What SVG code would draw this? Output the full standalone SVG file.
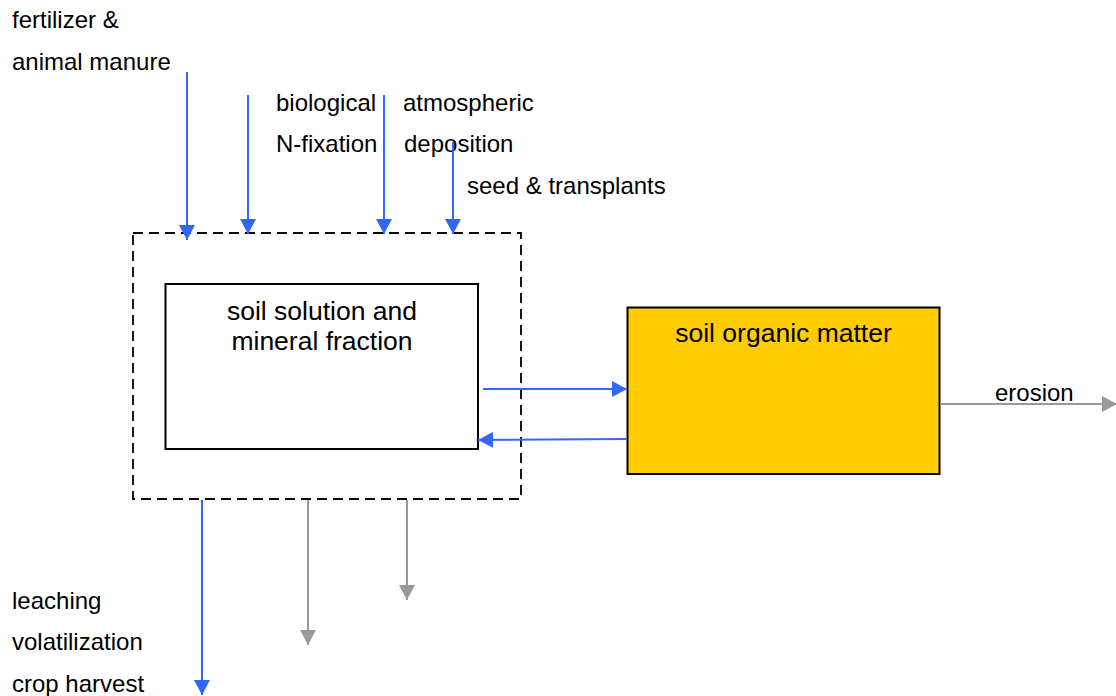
<svg xmlns="http://www.w3.org/2000/svg" width="1116" height="696" viewBox="0 0 1116 696">
<style>
text{font-family:"Liberation Sans",Arial,sans-serif;fill:#000}
.lbl{font-size:24px}
.box{font-size:26.5px}
.b{stroke:#3366ff;stroke-width:2;fill:none}
.g{stroke:#999999;stroke-width:2;fill:none}
</style>
<defs>
<marker id="ab" markerUnits="userSpaceOnUse" markerWidth="16" markerHeight="16" refX="15" refY="8" orient="auto"><path d="M0,0 L15,8 L0,16 z" fill="#3366ff"/></marker>
<marker id="ag" markerUnits="userSpaceOnUse" markerWidth="16" markerHeight="16" refX="15" refY="8" orient="auto"><path d="M0,0 L15,8 L0,16 z" fill="#999999"/></marker>
</defs>
<g id="pool">
<rect x="133" y="233" width="388" height="266" fill="none" stroke="#000" stroke-width="1.8" stroke-dasharray="10,6"/>
</g>
<g id="soil-solution">
<rect x="165.5" y="284" width="312.5" height="165" fill="#fff" stroke="#000" stroke-width="2"/>
<text class="box" x="322" y="320" text-anchor="middle">soil solution and</text>
<text class="box" x="322" y="350" text-anchor="middle">mineral fraction</text>
</g>
<g id="som">
<rect x="627.5" y="307.5" width="312" height="166.5" fill="#ffcc00" stroke="#000" stroke-width="2"/>
<text class="box" x="783.5" y="342" text-anchor="middle">soil organic matter</text>
</g>
<g id="labels">
<text class="lbl" x="12" y="28">fertilizer &amp;</text>
<text class="lbl" x="12" y="70">animal manure</text>
<text class="lbl" x="276" y="111">biological</text>
<text class="lbl" x="276" y="152">N-fixation</text>
<text class="lbl" x="403" y="111">atmospheric</text>
<text class="lbl" x="404" y="152">deposition</text>
<text class="lbl" x="467" y="194">seed &amp; transplants</text>
<text class="lbl" x="995" y="401">erosion</text>
<text class="lbl" x="12" y="609">leaching</text>
<text class="lbl" x="12" y="650">volatilization</text>
<text class="lbl" x="12" y="692">crop harvest</text>
</g>
<g id="connectors">
<line class="b" x1="187" y1="72" x2="187" y2="240" marker-end="url(#ab)"/>
<line class="b" x1="248" y1="95" x2="248" y2="234" marker-end="url(#ab)"/>
<line class="b" x1="384" y1="95" x2="384" y2="234" marker-end="url(#ab)"/>
<line class="b" x1="453" y1="142" x2="453" y2="234" marker-end="url(#ab)"/>
<line class="b" x1="483" y1="389" x2="627" y2="389" marker-end="url(#ab)"/>
<line class="b" x1="627" y1="439" x2="478" y2="440" marker-end="url(#ab)"/>
<line class="g" x1="940" y1="404" x2="1117" y2="404" marker-end="url(#ag)"/>
<line class="b" x1="202" y1="500" x2="202" y2="695" marker-end="url(#ab)"/>
<line class="g" x1="308" y1="500" x2="308" y2="645" marker-end="url(#ag)"/>
<line class="g" x1="407" y1="500" x2="407" y2="600" marker-end="url(#ag)"/>
</g>
</svg>
